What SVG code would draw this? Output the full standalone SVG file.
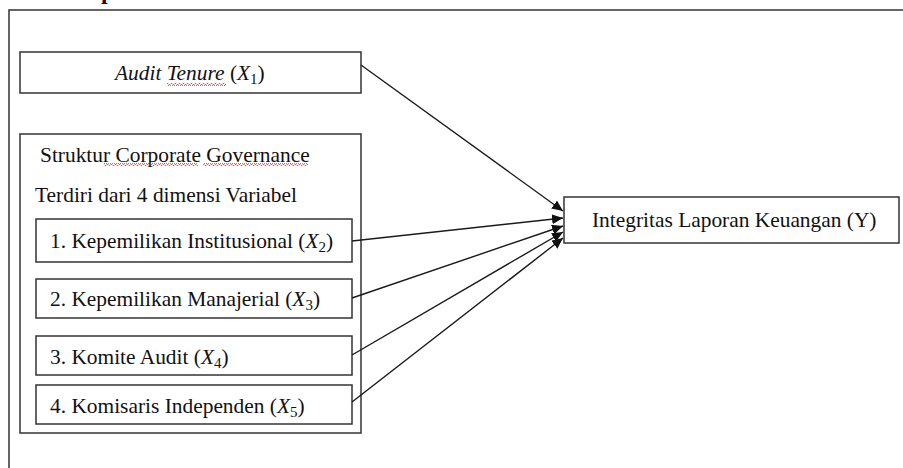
<svg xmlns="http://www.w3.org/2000/svg" width="903" height="468" viewBox="0 0 903 468">
  <style>
    .box { fill: #ffffff; stroke: #333333; stroke-width: 1.5; }
    .t { font-family: "Liberation Serif", "Times New Roman", serif; font-size: 21.4px; fill: #111111; }
    .it { font-style: italic; }
    .sub { font-size: 15px; }
    .conn { stroke: #1a1a1a; stroke-width: 1.4; fill: none; marker-end: url(#arrow); }
  </style>
  <defs>
    <marker id="arrow" markerUnits="userSpaceOnUse" markerWidth="12" markerHeight="10" refX="11" refY="5" orient="auto">
      <path d="M0,0 L11,5 L0,10 Z" fill="#111111"/>
    </marker>
    <pattern id="squiggle" patternUnits="userSpaceOnUse" width="4" height="3">
      <path d="M0,2.5 L1,0.5 L2,0.5 L3,2.5 L4,2.5" fill="none" stroke="#d33" stroke-width="0.8"/>
    </pattern>
  </defs>

  <rect width="903" height="468" fill="#ffffff"/>

  <!-- cut-off heading fragment -->
  <text x="101" y="-1" font-family="Liberation Serif, serif" font-size="24" font-weight="bold" fill="#111">p</text>

  <!-- outer frame -->
  <path d="M904,10 H9 V469" fill="none" stroke="#333333" stroke-width="1.5"/>

  <g id="audit-tenure">
    <rect class="box" x="20" y="52" width="341" height="41"/>
    <text class="t" x="115" y="80"><tspan class="it">Audit Tenure</tspan> (<tspan class="it">X</tspan><tspan class="sub" dy="4">1</tspan><tspan dy="-4">)</tspan></text>
    <rect x="167" y="83" width="59" height="3" fill="url(#squiggle)"/>
  </g>

  <g id="struktur-cg">
    <rect class="box" x="20" y="134" width="341" height="299"/>
    <text class="t" x="40" y="162">Struktur Corporate Governance</text>
    <rect x="104" y="163" width="94" height="3" fill="url(#squiggle)"/>
    <rect x="203" y="163" width="105" height="3" fill="url(#squiggle)"/>
    <text class="t" x="35" y="202">Terdiri dari 4 dimensi Variabel</text>
  </g>

  <g id="x2">
    <rect class="box" x="36" y="219" width="316" height="43"/>
    <text class="t" x="50" y="248">1. Kepemilikan Institusional (<tspan class="it">X</tspan><tspan class="sub" dy="4">2</tspan><tspan dy="-4">)</tspan></text>
  </g>

  <g id="x3">
    <rect class="box" x="36" y="279" width="316" height="39"/>
    <text class="t" x="50" y="306">2. Kepemilikan Manajerial (<tspan class="it">X</tspan><tspan class="sub" dy="4">3</tspan><tspan dy="-4">)</tspan></text>
  </g>

  <g id="x4">
    <rect class="box" x="36" y="336" width="316" height="39"/>
    <text class="t" x="50" y="364">3. Komite Audit (<tspan class="it">X</tspan><tspan class="sub" dy="4">4</tspan><tspan dy="-4">)</tspan></text>
  </g>

  <g id="x5">
    <rect class="box" x="36" y="385" width="316" height="39"/>
    <text class="t" x="50" y="413">4. Komisaris Independen (<tspan class="it">X</tspan><tspan class="sub" dy="4">5</tspan><tspan dy="-4">)</tspan></text>
  </g>

  <g id="integritas">
    <rect class="box" x="564" y="197" width="335" height="46"/>
    <text class="t" x="592" y="227">Integritas Laporan Keuangan (Y)</text>
  </g>

  <g id="connectors">
    <line class="conn" x1="361" y1="65" x2="563" y2="211"/>
    <line class="conn" x1="352" y1="241" x2="563" y2="218"/>
    <line class="conn" x1="352" y1="298" x2="563" y2="226"/>
    <line class="conn" x1="352" y1="355" x2="563" y2="232"/>
    <line class="conn" x1="352" y1="402" x2="563" y2="238"/>
  </g>
</svg>
